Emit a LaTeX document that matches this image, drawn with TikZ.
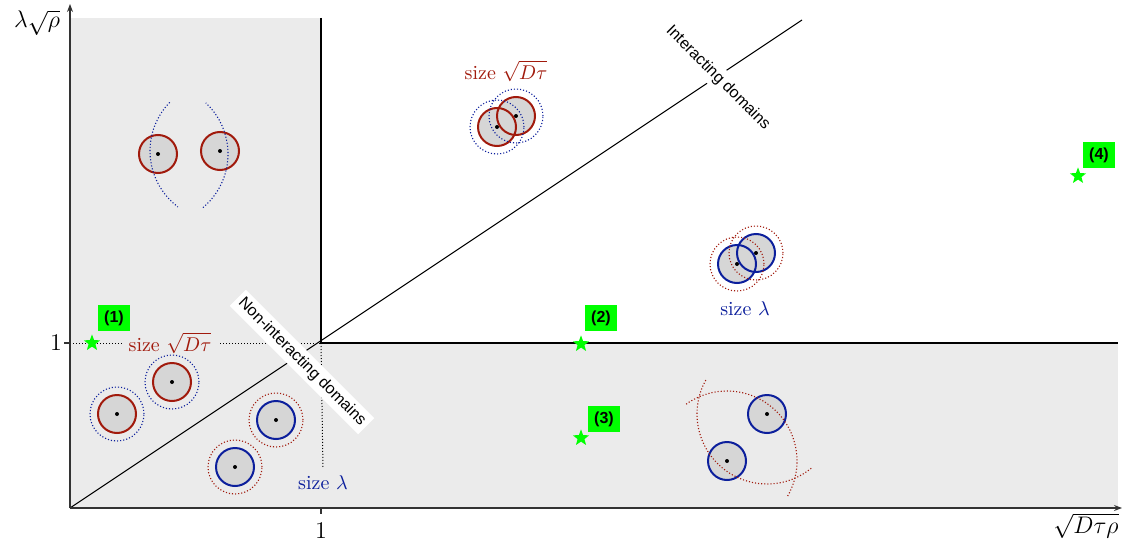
\documentclass[tikz,border=0pt]{standalone}
\usepackage{fontspec}
\newfontfamily\labelsans{Liberation Sans}
\usetikzlibrary{shapes.geometric,arrows.meta}

\definecolor{regiongray}{gray}{0.922}
\definecolor{cellgray}{gray}{0.84}
\definecolor{darkred}{HTML}{A11A0C}
\definecolor{darkblue}{HTML}{0C1F9C}
\definecolor{markgreen}{HTML}{00FF00}

\tikzset{
  axisline/.style={line width=0.6pt, draw=black!80, -{Stealth[length=4pt,width=3pt]}},
  border/.style={line width=1pt},
  guide/.style={line width=0.5pt, dash pattern=on 0.5pt off 1pt},
  cell/.style={circle, minimum size=19pt, inner sep=0pt, outer sep=0pt, fill=cellgray, line width=1pt},
  redcell/.style={cell, draw=darkred},
  bluecell/.style={cell, draw=darkblue},
  halo/.style={circle, minimum size=27pt, inner sep=0pt, line width=0.55pt, dash pattern=on 0.55pt off 1pt},
  bluehalo/.style={halo, draw=darkblue},
  redhalo/.style={halo, draw=darkred},
  reach/.style={line width=0.55pt, dash pattern=on 0.55pt off 1pt},
  regionlabel/.style={fill=white, inner sep=2pt, rotate=-45, font=\labelsans\fontsize{8}{9.6}\selectfont},
  starmark/.style={star, star points=5, star point ratio=2.4, fill=markgreen, inner sep=0pt, minimum size=8.6pt},
  tag/.style={fill=markgreen, inner xsep=3.2pt, inner ysep=2.6pt, font=\labelsans\bfseries\fontsize{8}{9.6}\selectfont},
  sizered/.style={text=darkred},
  sizeblue/.style={text=darkblue},
}

\begin{document}
\begin{tikzpicture}[x=0.5pt,y=0.5pt]
\useasboundingbox (0,0) rectangle (1122,542);

% shaded regions of the phase diagram
\fill[regiongray] (70,34) rectangle (321,524);
\fill[regiongray] (321,34) rectangle (1118,199);

\coordinate (O) at (70,34);
\coordinate (C) at (321,199);
\coordinate (ytop) at (70,538);
\coordinate (xend) at (1122,34);
\coordinate (ymax) at (321,524);
\coordinate (xmax) at (1118,199);
\coordinate (diagend) at (802,522);
\coordinate (yone) at (70,199);
\coordinate (xone) at (321,34);

% guide lines at the unit values
\node[sizeblue] (sizeB) at (323,59) {size $\lambda$};
\draw[guide] (yone) -- (C);
\draw[guide] (C) -- (sizeB.north);
\node[sizered, fill=regiongray] (sizeA) at (170,199) {size $\sqrt{D\tau}$};

% diagonal separating the domains
\draw[line width=0.5pt] (O) -- (diagend);

% boundaries
\draw[border] (ymax) -- (C) -- (xmax);

% axes
\draw[axisline] (O) -- (ytop);
\draw[axisline] (O) -- (xend);
\draw[line width=0.6pt, black!80] (xone) -- ++(0,-6);
\draw[line width=0.6pt, black!80] (yone) -- ++(-6,0);
\node[font=\large] (xtick) at (321,11) {1};
\node[font=\large] (ytick) at (56,199) {1};
\node[font=\large, inner sep=1pt] (ylab) at (37,519) {$\lambda\sqrt{\rho}$};
\node[font=\large, inner sep=1pt] (xlab) at (1086,16) {$\sqrt{D\tau\rho}$};

% region labels
\node[regionlabel] (nonint) at (302,180) {Non-interacting domains};
\node[regionlabel] (inter) at (718,464) {Interacting domains};

% size labels
\node[sizered] (sizeC) at (506,471) {size $\sqrt{D\tau}$};
\node[sizeblue] (sizeD) at (745,233) {size $\lambda$};

% lower-left: separated cells with their halos
\node[redcell] (a1) at (117,128) {};
\node[redcell] (a2) at (172,160) {};
\node[bluehalo] (ah1) at (a1) {};
\node[bluehalo] (ah2) at (a2) {};
\node[bluecell] (b1) at (276,122) {};
\node[bluecell] (b2) at (235,75) {};
\node[redhalo] (bh1) at (b1) {};
\node[redhalo] (bh2) at (b2) {};

% upper-left: cells with long reach arcs
\node[redcell] (c1) at (158,388) {};
\node[redcell] (c2) at (220,391) {};
\draw[reach, darkblue] (c2) ++(136:70) arc[start angle=136, end angle=233, radius=70];
\draw[reach, darkblue] (c1) ++(-50:70) arc[start angle=-50, end angle=47, radius=70];

% upper-right: overlapping red cells
\node[cell] (d1) at (497,415) {};
\node[cell] (d2) at (516,426) {};
\draw[line width=1pt, darkred] (d1) circle[radius=19];
\draw[line width=1pt, darkred] (d2) circle[radius=19];
\node[bluehalo] (dh1) at (d1) {};
\node[bluehalo] (dh2) at (d2) {};

% right: overlapping blue cells
\node[cell] (e1) at (737,278) {};
\node[cell] (e2) at (756,289) {};
\draw[line width=1pt, darkblue] (e1) circle[radius=19];
\draw[line width=1pt, darkblue] (e2) circle[radius=19];
\node[redhalo] (eh1) at (e1) {};
\node[redhalo] (eh2) at (e2) {};

% lower-right: blue cells with long reach arcs
\node[bluecell] (f1) at (767,128) {};
\node[bluecell] (f2) at (727,81) {};
\draw[reach, darkred] (f2) ++(-30:70) arc[start angle=-30, end angle=127, radius=70];
\draw[reach, darkred] (f1) ++(151:70) arc[start angle=151, end angle=310, radius=70];

% cell centres
\foreach \n in {a1,a2,b1,b2,c1,c2,d1,d2,e1,e2,f1,f2}
  \fill (\n) circle[radius=2];

% marked points
\node[starmark] (s1) at (92,199) {};
\node[starmark] (s2) at (581,198) {};
\node[starmark] (s3) at (581,104) {};
\node[starmark] (s4) at (1078,366) {};
\node[tag] (t1) at (114,224) {(1)};
\node[tag] (t2) at (601,224) {(2)};
\node[tag] (t3) at (604,123) {(3)};
\node[tag] (t4) at (1099,387) {(4)};
\end{tikzpicture}
\end{document}
